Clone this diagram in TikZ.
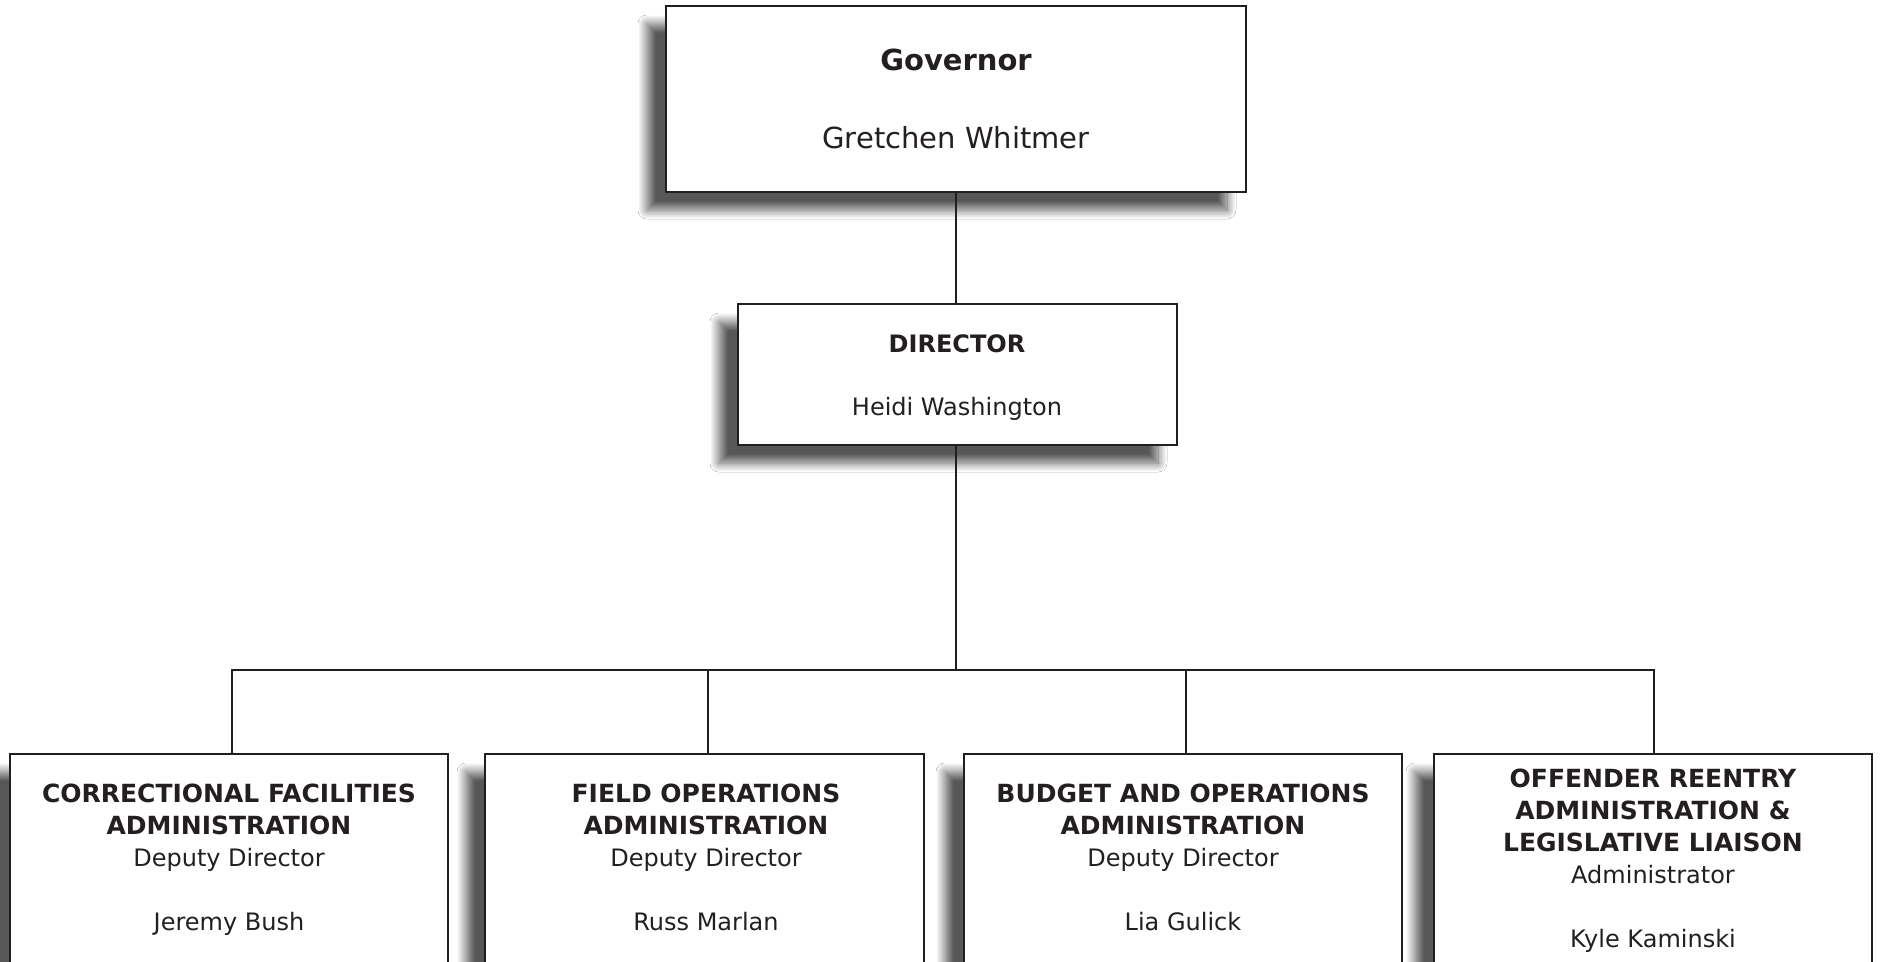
\documentclass[tikz,border=0pt]{standalone}
\usepackage{fontspec}
\setmainfont{DejaVu Sans}
\usetikzlibrary{shadows.blur}
\definecolor{ink}{HTML}{231F20}
\newcommand\hdfont{\bfseries\fontsize{25}{32}\selectfont}
\begin{document}
\begin{tikzpicture}[x=1pt,y=-1pt,
  box/.style={draw=ink, line width=2.7pt, fill=white, rectangle, inner sep=0pt,
    blur shadow={shadow xshift=-19pt, shadow yshift=-18pt, shadow blur radius=9pt,
      shadow blur steps=18, shadow opacity=66}},
  conn/.style={draw=ink, line width=2.3pt},
  lbl/.style={text=ink, inner sep=0pt, anchor=base, align=center},
  big/.style={lbl, font=\fontsize{29}{35}\selectfont},
  mid/.style={lbl, font=\fontsize{24}{32}\selectfont},
  unit/.style={lbl, font=\fontsize{24}{32}\selectfont}
]
\useasboundingbox (0,0) rectangle (1881,961);
\clip (0,0) rectangle (1881,961);
\fill[white] (0,0) rectangle (1881,961);

% boxes
\node[box, minimum width=580pt, minimum height=186pt] (gov) at (956,99) {};
\node[box, minimum width=439pt, minimum height=141pt] (dir) at (957.5,374.5) {};
\node[box, minimum width=438pt, minimum height=256pt] (b1) at (229,882) {};
\node[box, minimum width=439pt, minimum height=256pt] (b2) at (704.5,882) {};
\node[box, minimum width=438pt, minimum height=256pt] (b3) at (1183,882) {};
\node[box, minimum width=438pt, minimum height=256pt] (b4) at (1653,882) {};

% texts
\node[big, font=\bfseries\fontsize{29}{35}\selectfont] (govt) at (956,70) {Governor};
\node[big] (govn) at (956,148) {Gretchen Whitmer};
\node[mid, font=\bfseries\fontsize{24}{32}\selectfont] (dirt) at (957,352) {DIRECTOR};
\node[mid] (dirn) at (957,415) {Heidi Washington};

\node[unit] (t1) at (229,930) {{\hdfont CORRECTIONAL FACILITIES}\\{\hdfont ADMINISTRATION}\\Deputy Director\\[32pt]Jeremy Bush};
\node[unit] (t2) at (706,930) {{\hdfont FIELD OPERATIONS}\\{\hdfont ADMINISTRATION}\\Deputy Director\\[32pt]Russ Marlan};
\node[unit] (t3) at (1183,930) {{\hdfont BUDGET AND OPERATIONS}\\{\hdfont ADMINISTRATION}\\Deputy Director\\[32pt]Lia Gulick};
\node[unit] (t4) at (1653,947) {{\hdfont OFFENDER REENTRY}\\{\hdfont ADMINISTRATION \&}\\{\hdfont LEGISLATIVE LIAISON}\\Administrator\\[32pt]Kyle Kaminski};

% connectors
\coordinate (bus) at (956,670);
\coordinate (d1) at ([xshift=3pt]b1.north);
\coordinate (d2) at ([xshift=3.5pt]b2.north);
\coordinate (d3) at ([xshift=3pt]b3.north);
\coordinate (d4) at ([xshift=1pt]b4.north);
\draw[conn] (gov.south) -- (gov.south |- dir.north);
\draw[conn] (dir.south -| gov.south) -- (bus);
\draw[conn] (d1) |- (bus) -| (d4);
\draw[conn] (d2) -- (d2 |- bus);
\draw[conn] (d3) -- (d3 |- bus);
\end{tikzpicture}
\end{document}
